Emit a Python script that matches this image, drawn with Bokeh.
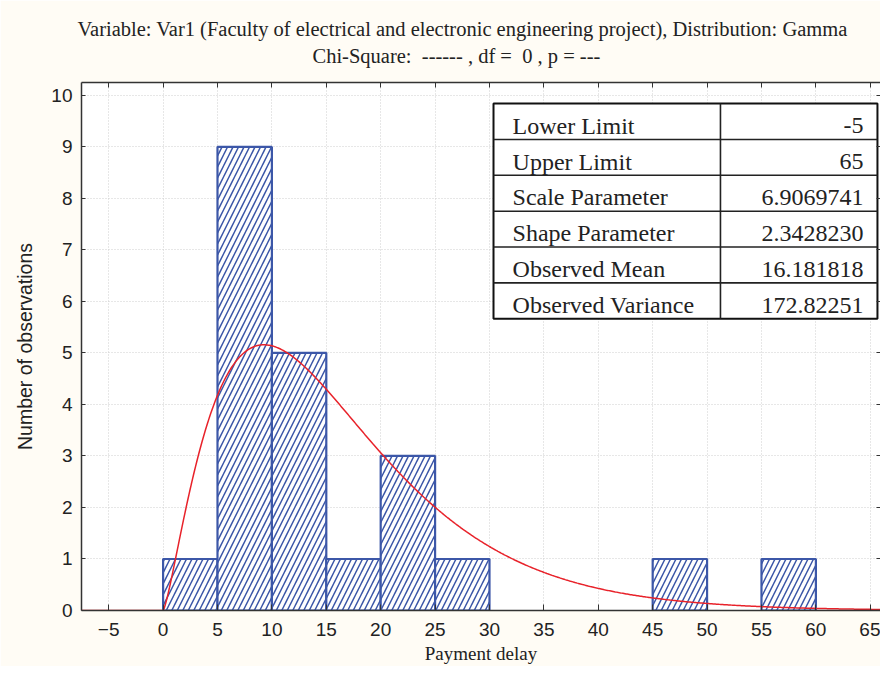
import math
from bokeh.plotting import figure
from bokeh.models import Range1d, LinearAxis, Title, FixedTicker
from bokeh.core.properties import value
from bokeh.embed import file_html
from bokeh.resources import INLINE

# ---- data ----
bin_left = [0, 5, 10, 15, 20, 25, 30, 35, 40, 45, 50, 55, 60]
bin_right = [5, 10, 15, 20, 25, 30, 35, 40, 45, 50, 55, 60, 65]
counts = [1, 9, 5, 1, 3, 1, 0, 0, 0, 1, 0, 1, 0]

x_ticks = [-5, 0, 5, 10, 15, 20, 25, 30, 35, 40, 45, 50, 55, 60, 65]
y_ticks = [0, 1, 2, 3, 4, 5, 6, 7, 8, 9, 10]

table_labels = ["Lower Limit", "Upper Limit", "Scale Parameter",
                "Shape Parameter", "Observed Mean", "Observed Variance"]
table_values = ["-5", "65", "6.9069741", "2.3428230", "16.181818", "172.82251"]

scale_param = 6.9069741
shape_param = 2.3428230
bin_width = 5

title1 = "Variable: Var1 (Faculty of electrical and electronic engineering project), Distribution: Gamma"
title2 = "Chi-Square:  ------ , df =  0 , p = ---"
x_label = "Payment delay"
y_label = "Number of observations"

# ---- fitted gamma curve (from the table's parameters) ----
X0, X1 = -7.5, 65.94
n_obs = sum(counts)
log_norm = math.lgamma(shape_param) + shape_param * math.log(scale_param)
curve_x, curve_y = [], []
steps = 735
for i in range(steps + 1):
    x = X0 + (X1 - X0) * i / steps
    if x <= 0:
        y = 0.0
    else:
        y = n_obs * bin_width * math.exp((shape_param - 1) * math.log(x) - x / scale_param - log_norm)
    curve_x.append(x)
    curve_y.append(y)

SERIF = value("Liberation Serif")
AXC = "#333333"
TXT = "#222222"
BLUE = "#3C57A8"

p = figure(width=880, height=666, x_range=Range1d(X0, X1), y_range=Range1d(0, 10.25),
           output_backend="svg", toolbar_location=None, title=None,
           min_border_left=81, min_border_right=0, min_border_top=82, min_border_bottom=56,
           background_fill_color="white", border_fill_color="#FFFCF5")
p.outline_line_color = None

# grid
p.xgrid.ticker = FixedTicker(ticks=x_ticks)
p.ygrid.ticker = FixedTicker(ticks=y_ticks[1:])
for g in (p.xgrid, p.ygrid):
    g.grid_line_color = "#cfcfcf"
    g.grid_line_dash = "1 2"
    g.grid_line_width = 1

# bottom axis
xa = p.xaxis[0]
xa.ticker = FixedTicker(ticks=x_ticks)
xa.major_tick_in = 6
xa.major_tick_out = 0
xa.minor_tick_in = 0
xa.minor_tick_out = 0
xa.axis_line_color = AXC
xa.axis_line_width = 1.5
xa.major_tick_line_color = AXC
xa.major_label_text_font = "Liberation Sans"
xa.major_label_text_font_size = "19px"
xa.major_label_text_color = TXT
xa.major_label_standoff = 12
xa.axis_label = x_label
xa.axis_label_text_font = "Liberation Serif"
xa.axis_label_text_font_style = "normal"
xa.axis_label_text_font_size = "19px"
xa.axis_label_text_color = TXT
xa.axis_label_standoff = 4

# left axis
ya = p.yaxis[0]
ya.ticker = FixedTicker(ticks=y_ticks)
ya.major_tick_in = 4
ya.major_tick_out = 0
ya.minor_tick_in = 0
ya.minor_tick_out = 0
ya.axis_line_color = AXC
ya.axis_line_width = 1.5
ya.major_tick_line_color = AXC
ya.major_label_text_font = "Liberation Sans"
ya.major_label_text_font_size = "19px"
ya.major_label_text_color = TXT
ya.major_label_standoff = 9
ya.axis_label = y_label
ya.axis_label_text_font = "Liberation Sans"
ya.axis_label_text_font_style = "normal"
ya.axis_label_text_font_size = "19.5px"
ya.axis_label_text_color = TXT
ya.axis_label_standoff = 12

# top axis (ticks only, no labels drawn)
ta = LinearAxis(ticker=FixedTicker(ticks=x_ticks), major_label_text_font_size="0px",
                major_label_text_color=None,
                major_tick_in=5, major_tick_out=0, minor_tick_in=0, minor_tick_out=0,
                major_label_standoff=0, axis_line_color=AXC, axis_line_width=1.5,
                major_tick_line_color=AXC)
p.add_layout(ta, "above")

# invisible spacer between the frame and the subtitle
spacer = LinearAxis(ticker=FixedTicker(ticks=x_ticks), major_label_text_font_size="0px",
                    major_label_text_color=None, major_tick_in=0, major_tick_out=14,
                    minor_tick_in=0, minor_tick_out=0, major_label_standoff=0,
                    axis_line_color=None, major_tick_line_color=None, minor_tick_line_color=None)
p.add_layout(spacer, "above")

# right axis (ticks only)
ra = LinearAxis(ticker=FixedTicker(ticks=y_ticks), major_label_text_font_size="0px",
                major_label_text_color=None,
                major_tick_in=4, major_tick_out=0, minor_tick_in=0, minor_tick_out=0,
                major_label_standoff=0, axis_line_color=None, major_tick_line_color=AXC)
p.add_layout(ra, "right")

# titles
t2 = Title(text=title2.replace("  ", "\u00a0\u00a0"), align="left", offset=231,
           text_font="Liberation Serif", text_font_size="20.5px", text_font_style="normal",
           text_color=TXT, standoff=4)
t1 = Title(text=title1, align="left", offset=-4, text_font="Liberation Serif",
           text_font_size="20.5px", text_font_style="normal", text_color=TXT, standoff=1)
p.add_layout(t2, "above")
p.add_layout(t1, "above")

# histogram bars
bl = [l for l, c in zip(bin_left, counts) if c > 0]
br = [r for r, c in zip(bin_right, counts) if c > 0]
bt = [c for c in counts if c > 0]
p.quad(left=bl, right=br, top=bt, bottom=[0] * len(bt), fill_color="white",
       line_color=BLUE, line_width=2.2, hatch_pattern="/", hatch_color=BLUE,
       hatch_scale=11, hatch_weight=1.5)

# fitted curve
p.line(curve_x, curve_y, line_color="#E8222A", line_width=1.5)

# parameter table
tbl_left, tbl_mid, tbl_right = 30.37, 51.23, 65.66
tbl_top, row_h = 9.84, 0.696
n_rows = len(table_labels)
p.quad(left=[tbl_left], right=[tbl_right], top=[tbl_top], bottom=[tbl_top - n_rows * row_h],
       fill_color="white", line_color="#111111", line_width=2)
row_lines = [tbl_top - (i + 1) * row_h for i in range(n_rows - 1)]
p.segment(x0=[tbl_left] * len(row_lines), x1=[tbl_right] * len(row_lines),
          y0=row_lines, y1=row_lines, line_color=TXT, line_width=1.6)
p.segment(x0=[tbl_mid], x1=[tbl_mid], y0=[tbl_top], y1=[tbl_top - n_rows * row_h],
          line_color=TXT, line_width=1.6)
baselines = [tbl_top - i * row_h - 0.43 for i in range(n_rows)]
p.text(x=[32.12] * n_rows, y=baselines, text=table_labels, text_font=SERIF,
       text_font_size="24px", text_color=TXT, text_align="left", text_baseline="alphabetic")
p.text(x=[64.37] * n_rows, y=baselines, text=table_values, text_font=SERIF,
       text_font_size="24px", text_color=TXT, text_align="right", text_baseline="alphabetic")

open("out.html", "w").write(file_html(p, INLINE))
